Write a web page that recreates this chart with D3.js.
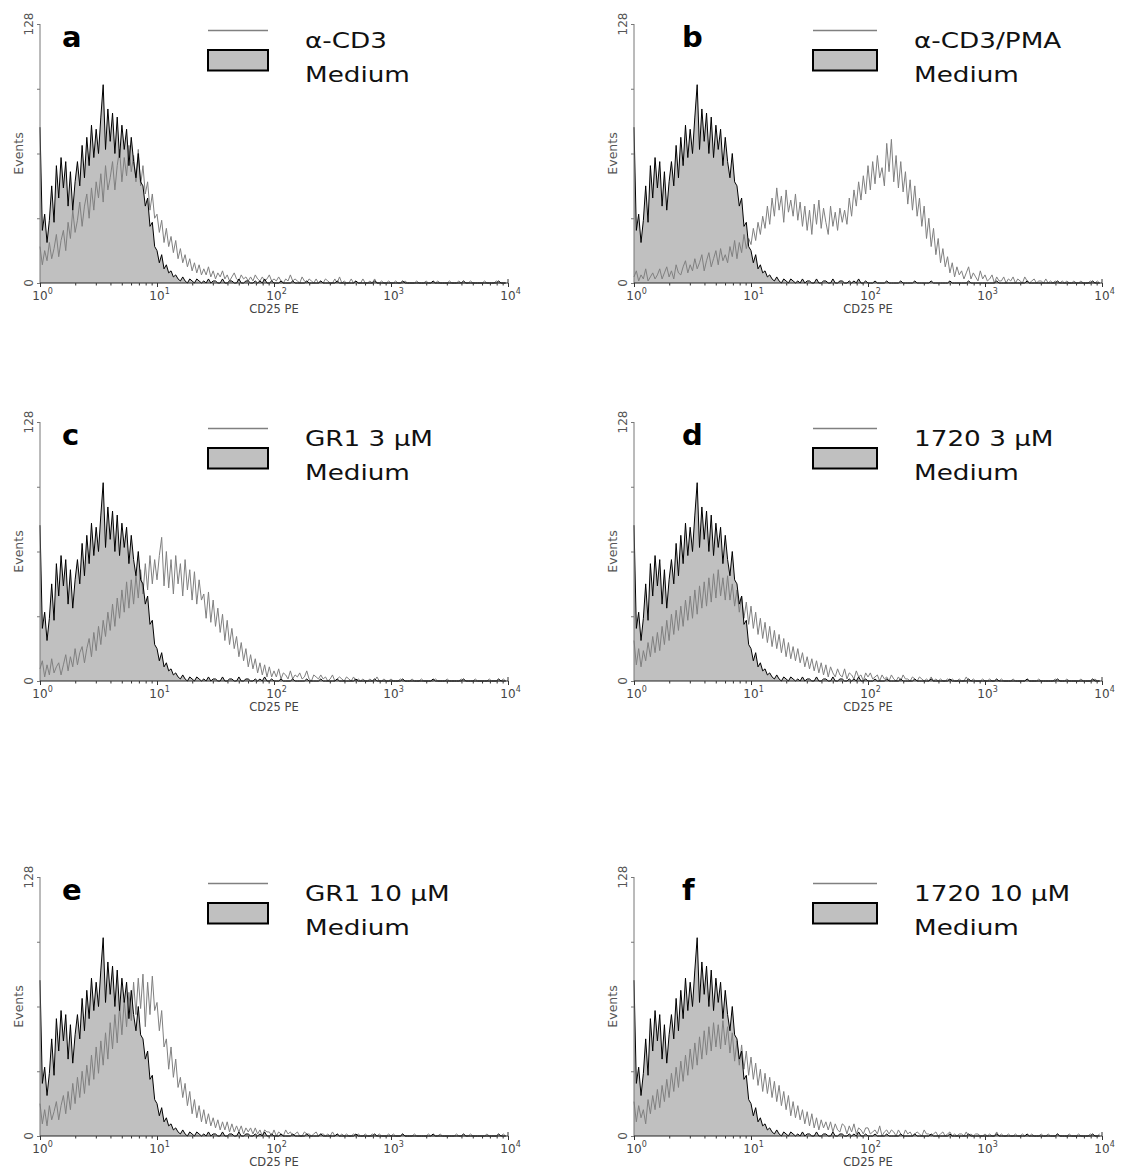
<!DOCTYPE html>
<html><head><meta charset="utf-8">
<script src="https://cdn.jsdelivr.net/npm/d3@7"></script>
<style>body{margin:0;background:#fff}svg{display:block}</style>
</head><body><div id="chart"></div>
<script>
// ---------------- DATA ----------------
const binsPerDecade = 50;              // histogram channels per decade (log scale)
const xTickValues = [1, 10, 100, 1000, 10000];
const xTickExponents = ["0", "1", "2", "3", "4"];
const yTickValues = [0, 32, 64, 96, 128];
const yTickLabels = ["0", "", "", "", "128"];
const xAxisTitle = "CD25 PE";
const yAxisTitle = "Events";
const panelLetters = ["a", "b", "c", "d", "e", "f"];
const treatmentLabels = ["α-CD3", "α-CD3/PMA", "GR1 3 µM", "1720 3 µM", "GR1 10 µM", "1720 10 µM"];
const controlLabel = "Medium";

// Medium (control) histogram – identical in all panels
const medium = [
  77,26,34,20,31,48,30,58,42,62, 47,60,38,55,36,50,60,48,68,52, 72,58,78,62,76,64,82,98,66,86, 70,84,64,82,62,78,66,76,58,72, 60,52,64,50,48,38,42,28,30,18,
  16,10,14,7,9,5,6,3,4,2, 1,3,1,0,2,1,0,2,1,0, 1,0,2,0,1,1,0,0,2,0, 0,1,1,0,0,2,0,0,1,1, 0,0,1,0,1,0,2,0,0,1,
  0,0,0,1,0,0,0,0,1,0, 0,0,0,0,1,0,0,0,0,0, 1,0,0,0,0,0,0,1,0,0, 0,0,0,0,0,1,0,0,0,0, 0,0,0,1,0,0,0,0,0,0,
  0,0,0,0,0,1,0,0,0,0, 0,0,0,0,0,0,0,0,1,0, 0,0,0,0,0,0,0,0,0,0, 0,1,0,0,0,0,0,0,0,0, 0,0,0,0,0,0,1,0,0,0
];
// a: α-CD3
const alphaCD3 = [
  18,9,16,11,20,12,17,24,13,21, 26,16,30,22,36,25,31,40,28,38, 44,32,47,36,50,42,54,40,58,46, 52,60,46,58,66,50,62,53,68,55, 63,50,66,48,58,44,50,36,44,32,
  34,25,31,20,27,18,23,15,21,12, 17,10,14,8,12,6,10,5,9,4, 7,4,8,3,6,2,5,3,6,2, 4,1,3,5,2,1,4,2,3,1, 3,1,4,2,1,3,1,2,4,1,
  2,1,3,1,0,2,1,4,1,2, 1,0,3,1,0,2,1,0,2,0, 1,0,2,1,0,0,2,0,3,0, 1,0,0,2,0,1,0,0,2,0, 0,1,0,2,0,0,1,0,0,1,
  0,0,1,0,0,0,1,0,0,0, 0,1,0,0,0,1,0,0,0,0, 1,0,0,0,0,1,0,0,0,1, 0,0,0,0,1,0,0,0,0,0, 1,0,0,0,0,1,0,0,0,0
];
// b: α-CD3/PMA
const alphaCD3PMA = [
  3,6,1,4,2,7,1,3,5,2, 4,7,2,5,8,3,6,2,9,5, 4,8,11,5,9,6,12,7,10,14, 6,11,15,8,12,16,9,17,11,14, 10,18,13,21,12,20,15,24,17,22,
  19,27,21,30,24,33,27,38,29,42, 33,47,36,43,30,46,35,41,33,44, 31,40,28,38,26,36,24,39,29,41, 27,37,30,24,38,28,35,26,37,30, 36,29,42,33,46,38,50,41,53,44,
  58,46,60,49,63,52,57,48,69,55, 71,50,63,47,60,45,55,39,51,36, 48,33,42,28,38,22,32,18,27,14, 22,10,17,8,13,5,10,3,8,4, 6,2,5,8,2,5,3,1,6,2,
  4,1,2,4,0,3,1,1,3,0, 2,1,3,0,2,1,0,3,1,0, 1,2,0,1,1,0,2,0,1,0, 1,0,0,1,0,1,0,0,1,0, 0,1,0,0,0,1,0,0,1,0
];
// c: GR1 3 µM
const gr1_3uM = [
  6,10,2,8,3,11,4,7,9,3, 8,13,5,12,7,16,8,14,17,9, 16,21,12,24,15,27,18,30,22,34, 25,38,27,41,31,45,34,49,36,50, 38,52,41,55,43,58,45,62,48,60,
  50,62,71,47,64,46,60,43,62,48, 58,42,60,45,55,40,54,38,50,40, 43,31,44,29,40,27,36,24,33,20, 30,18,26,16,22,12,19,10,16,7, 13,6,11,4,9,3,8,2,7,2,
  5,2,6,1,4,3,1,5,1,3, 2,4,1,2,5,1,0,3,2,1, 3,1,2,0,1,3,0,1,2,1, 0,2,1,0,2,0,1,0,1,0, 0,1,0,0,2,0,0,1,0,0,
  1,0,0,0,1,0,0,0,0,1, 0,0,0,1,0,0,0,0,0,1, 0,0,0,0,1,0,0,0,0,0, 1,0,0,0,0,0,1,0,0,0, 0,0,1,0,0,0,0,0,1,0
];
// d: 1720 3 µM
const c1720_3uM = [
  20,8,16,7,15,10,19,12,22,14, 24,15,27,18,30,20,33,23,35,25, 37,27,40,30,42,31,45,33,47,36, 49,37,51,39,53,41,55,42,51,40, 52,40,48,37,45,34,42,31,39,28,
  37,26,34,23,31,21,29,19,27,17, 25,16,23,14,21,12,19,11,17,10, 16,9,14,7,12,6,11,5,10,4, 9,3,8,2,7,4,2,6,3,2, 6,1,4,3,1,5,2,3,0,4,
  2,4,1,2,3,0,3,1,2,0, 3,1,0,2,0,3,1,1,0,2, 1,0,2,1,0,1,0,2,0,1, 0,1,0,0,1,0,1,0,0,1, 0,0,2,0,0,1,0,0,0,1,
  0,0,1,0,0,0,0,1,0,0, 0,0,1,0,0,0,0,0,1,0, 0,0,0,1,0,0,0,0,0,0, 1,0,0,0,0,1,0,0,0,0, 0,1,0,0,0,0,0,1,0,0
];
// e: GR1 10 µM
const gr1_10uM = [
  16,6,13,5,15,8,12,17,8,15, 20,11,22,13,26,16,29,19,32,21, 35,25,40,28,44,31,47,35,51,38, 56,43,60,46,64,50,67,54,71,57, 76,60,78,63,80,54,76,60,79,62,
  66,52,62,44,48,33,44,29,38,24, 29,19,26,15,22,11,18,9,15,7, 13,6,11,5,9,4,8,3,7,3, 7,2,6,2,5,2,5,1,4,2, 4,1,4,1,3,0,3,2,2,0,
  3,0,2,1,0,3,1,2,0,1, 2,0,0,2,1,1,0,1,2,0, 1,1,0,1,0,2,0,1,0,1, 0,1,0,0,1,0,1,0,0,1, 0,0,1,0,0,1,0,0,0,1,
  0,1,0,0,0,1,0,0,0,0, 1,0,0,0,0,0,1,0,0,0, 0,1,0,0,0,0,0,0,1,0, 0,0,0,0,1,0,0,0,0,0, 0,1,0,0,0,0,0,0,1,0
];
// f: 1720 10 µM
const c1720_10uM = [
  17,7,15,9,13,6,18,11,20,13, 23,14,25,17,28,19,31,22,34,24, 37,27,40,30,43,33,46,35,49,38, 52,40,54,42,56,44,55,43,57,45, 54,41,51,37,47,35,45,33,42,30,
  39,28,36,25,33,22,31,21,29,19, 27,17,25,15,22,13,20,10,17,9, 15,8,13,6,12,5,11,4,9,3, 8,4,7,3,7,2,6,3,2,6, 5,1,5,2,6,1,4,3,1,4,
  4,1,2,3,1,5,0,2,3,1, 3,2,0,3,1,0,3,1,2,0, 1,2,1,0,3,1,1,0,1,2, 0,1,2,0,1,2,0,1,0,1, 1,0,2,0,1,0,1,1,0,0,
  1,0,1,0,0,2,0,1,0,0, 1,0,0,1,0,0,1,0,0,0, 1,0,0,0,1,0,0,1,0,0, 0,1,0,0,0,0,1,0,0,0, 1,0,0,0,0,1,0,0,0,1
];
const treatmentSeries = [alphaCD3, alphaCD3PMA, gr1_3uM, c1720_3uM, gr1_10uM, c1720_10uM];

// ---------------- LAYOUT ----------------
const W = 1121, H = 1169;
const colX = [40, 634];
const rowY = [24, 422, 877];
const plotW = 468, plotH = 259;
const letterX = [62, 682];
const legendX = [208, 813];
const legendW = [60, 64];
const legendTextX = [305, 914];
const textStretch = 1.25;
const fontMain = "'DejaVu Sans', 'Liberation Sans', sans-serif";

const svg = d3.select("#chart").append("svg").attr("width", W).attr("height", H)
  .style("font-family", fontMain);

const x = d3.scaleLog().domain([1, 10000]).range([0, plotW]);
const y = d3.scaleLinear().domain([0, 128]).range([plotH, 0]);
const chan = i => Math.pow(10, i / binsPerDecade);

const area = d3.area().x((d, i) => x(chan(i))).y0(y(0)).y1(d => y(d));
const line = d3.line().x((d, i) => x(chan(i))).y(d => y(d));

panelLetters.forEach((letter, p) => {
  const col = p % 2, row = Math.floor(p / 2);
  const g = svg.append("g").attr("transform", `translate(${colX[col]},${rowY[row]})`);

  // histograms
  g.append("path").datum(medium).attr("d", area).attr("fill", "#c0c0c0").attr("stroke", "none");
  g.append("path").datum(treatmentSeries[p]).attr("d", line).attr("fill", "none")
    .attr("stroke", "#808080").attr("stroke-width", 1);
  g.append("path").datum(medium).attr("d", line).attr("fill", "none")
    .attr("stroke", "#000").attr("stroke-width", 1);

  // y axis
  const ya = g.append("g").call(d3.axisLeft(y).tickValues(yTickValues).tickSize(3).tickFormat(""));
  ya.select(".domain").attr("stroke", "#777").attr("d", `M0,${y(128)}V${y(0)}`);
  ya.selectAll(".tick line").attr("stroke", "#777");
  yTickValues.forEach((v, k) => {
    if (!yTickLabels[k]) return;
    g.append("text").attr("transform", `translate(-7,${y(v)}) rotate(-90)`)
      .attr("text-anchor", "middle").attr("font-size", 12).attr("fill", "#555")
      .text(yTickLabels[k]);
  });
  g.append("text").attr("transform", `translate(-17,${plotH / 2}) rotate(-90)`)
    .attr("text-anchor", "middle").attr("font-size", 12.5).attr("fill", "#555").text(yAxisTitle);

  // x axis
  const minor = [];
  for (let d = 0; d < 4; d++) for (let m = 2; m <= 9; m++) minor.push(m * Math.pow(10, d));
  const xa = g.append("g").attr("transform", `translate(0,${plotH})`)
    .call(d3.axisBottom(x).tickValues(minor).tickSize(2.5).tickFormat(""));
  xa.select(".domain").attr("stroke", "#222").attr("d", `M0,0H${plotW}`);
  xa.selectAll(".tick line").attr("stroke", "#333");
  const xm = g.append("g").attr("transform", `translate(0,${plotH})`)
    .call(d3.axisBottom(x).tickValues(xTickValues).tickSize(4).tickFormat(""));
  xm.select(".domain").remove();
  xm.selectAll(".tick line").attr("stroke", "#333");
  g.append("line").attr("x1", x(10000)).attr("x2", x(10000)).attr("y1", plotH - 4).attr("y2", plotH)
    .attr("stroke", "#333");
  xTickValues.forEach((v, k) => {
    g.append("text").attr("x", x(v)).attr("y", plotH + 16.5)
      .attr("text-anchor", "middle").attr("font-size", 12).attr("fill", "#444").text("10");
    g.append("text").attr("x", x(v) + 7.8).attr("y", plotH + 11)
      .attr("font-size", 8).attr("fill", "#444").text(xTickExponents[k]);
  });
  g.append("text").attr("x", plotW / 2).attr("y", plotH + 30)
    .attr("text-anchor", "middle").attr("font-size", 11.5).attr("fill", "#444").text(xAxisTitle);

  // panel letter
  svg.append("text").attr("x", letterX[col]).attr("y", rowY[row] + 23)
    .attr("font-size", 29).attr("font-weight", "bold").attr("fill", "#000").text(letter);

  // legend
  const lx = legendX[col], ly = rowY[row];
  svg.append("line").attr("x1", lx).attr("x2", lx + legendW[col])
    .attr("y1", ly + 6.5).attr("y2", ly + 6.5).attr("stroke", "#808080").attr("stroke-width", 1.5);
  svg.append("rect").attr("x", lx).attr("y", ly + 26).attr("width", legendW[col]).attr("height", 20.5)
    .attr("fill", "#c0c0c0").attr("stroke", "#000").attr("stroke-width", 2);
  svg.append("text").attr("transform", `translate(${legendTextX[col]},${ly + 23.5}) scale(${textStretch},1)`)
    .attr("font-size", 21).attr("fill", "#111").text(treatmentLabels[p]);
  svg.append("text").attr("transform", `translate(${legendTextX[col]},${ly + 57.5}) scale(${textStretch},1)`)
    .attr("font-size", 21).attr("fill", "#111").text(controlLabel);
});
</script>
</body></html>
